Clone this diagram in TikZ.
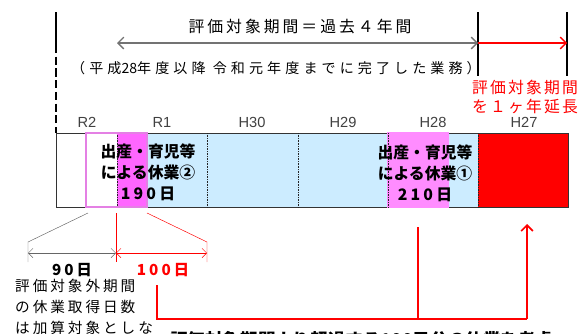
\documentclass[tikz,border=0pt]{standalone}
\usepackage{fontspec}
\setmainfont{Liberation Sans}
\newfontfamily\jp{Noto Sans CJK JP}
\usetikzlibrary{arrows.meta}

\definecolor{skyfill}{RGB}{204,236,255}
\definecolor{leavefill}{RGB}{255,102,255}
\definecolor{leavefillb}{RGB}{255,140,255}
\definecolor{leaveline}{RGB}{228,128,228}

\newcommand{\tightnum}[1]{{\addfontfeature{LetterSpace=0}#1}}

\tikzset{
  yearlabel/.style={font=\fontsize{12.5}{12.5}\selectfont, text=black!75, inner sep=0pt},
  leavetext/.style={font=\jp\bfseries\fontsize{13.5}{18}\selectfont, align=center, inner sep=0pt},
  titletext/.style={font=\jp\fontsize{13.5}{16}\selectfont\addfontfeature{LetterSpace=19}, inner sep=0pt},
  subtext/.style={font=\jp\fontsize{12}{14}\selectfont\addfontfeature{LetterSpace=29}, inner sep=0pt},
  redtext/.style={font=\jp\fontsize{13.5}{16}\selectfont\addfontfeature{LetterSpace=14}, text=red, align=center, inner sep=0pt},
  daystext/.style={font=\jp\bfseries\fontsize{13}{14}\selectfont\addfontfeature{LetterSpace=20}, inner sep=0pt},
  notetext/.style={font=\jp\fontsize{12.5}{18}\selectfont\addfontfeature{LetterSpace=20}, align=left, inner sep=0pt},
  barb/.tip={Straight Barb[length=5pt,width=10pt]},
  smallbarb/.tip={Straight Barb[length=4pt,width=8pt]},
}

\begin{document}
\begin{tikzpicture}[x=0.03cm,y=-0.03cm]
\useasboundingbox (0,0) rectangle (583,334);

\coordinate (D1) at (56,12);
\coordinate (D2) at (56,45);
\coordinate (D3) at (56,133);

\coordinate (L1) at (478,12);
\coordinate (L2) at (478,76);
\coordinate (L3) at (567,12);
\coordinate (L4) at (567,76);

\coordinate (A1) at (117,43);
\coordinate (A2) at (478,43);
\coordinate (A3) at (567,43);

% bar
\fill[leavefill] (117,133) rectangle (147,207);
\fill[skyfill] (147,133) rectangle (478,207);
\fill[leavefillb] (388,133) rectangle (448,207);
\fill[red] (478,133) rectangle (568,207);
\draw[black!80] (56,133) rectangle (568,207);
\foreach \x in {117,207,298,388,478}
  \draw[densely dotted, black!85] (\x,133) -- (\x,207);
\draw[leaveline, line width=1.2pt] (86,133) rectangle (147,207);
\draw[leavefillb, line width=1pt] (388,133) rectangle (448,207);
\draw[densely dotted, black!85] (388,133) -- (388,207);

% year labels
\node[yearlabel] (R2) at (87,122) {R2};
\node[yearlabel] (R1) at (162,122) {R1};
\node[yearlabel] (H30) at (252,122) {H30};
\node[yearlabel] (H29) at (343,122) {H29};
\node[yearlabel] (H28) at (433,122) {H28};
\node[yearlabel] (H27) at (524,122) {H27};

% leaves
\node[leavetext] (leave2) at (148,172) {出産・育児等\\による休業②\\{\addfontfeature{LetterSpace=20}190日}};
\node[leavetext] (leave1) at (425,173) {出産・育児等\\による休業①\\{\addfontfeature{LetterSpace=20}210日}};

% period
\draw[line width=1.5pt] (D1) -- (D2);
\draw[line width=1.5pt, dash pattern=on 7pt off 3pt] (D2) -- (D3);
\draw[line width=1.5pt] (L1) -- (L2);
\draw[line width=1.5pt] (L3) -- (L4);
\draw[black!55, line width=1.2pt, {barb}-{barb}] (A1) -- (A2);
\draw[red, line width=1.2pt, -{barb}] (A2) -- (A3);

\node[titletext] (title) at (300,27) {評価対象期間＝過去４年間};
\node[subtext] (sub) at (276,68) {（平成\tightnum{28}年度以降 令和元年度までに完了した業務）};
\node[redtext] (ext) at (525,97) {評価対象期間\\を１ヶ年延長};

% split of leave 2
\coordinate (G1) at (88,213);
\coordinate (G2) at (28,242);
\coordinate (G3) at (28,262);
\coordinate (G4) at (28,253);
\coordinate (M1) at (116,213);
\coordinate (M2) at (116,262);
\coordinate (M3) at (116,253);
\coordinate (P1) at (147,213);
\coordinate (P2) at (207,242);
\coordinate (P3) at (207,262);
\coordinate (P4) at (207,253);

\draw[black!60] (G1) -- (G2) -- (G3);
\draw[black!60, {smallbarb}-{smallbarb}] (G4) -- (M3);
\draw[red] (M1) -- (M2);
\draw[red] (P1) -- (P2) -- (P3);
\draw[red, {smallbarb}-{smallbarb}] (M3) -- (P4);

\node[daystext] (out) at (72,270) {90日};
\node[daystext, text=red] (in) at (163,270) {100日};
\node[notetext, anchor=north west] (note) at (15,279) {評価対象外期間\\の休業取得日数\\は加算対象としな};

% sum
\coordinate (S1) at (157,285);
\coordinate (S2) at (157,319);
\coordinate (S3) at (418,227);
\coordinate (S4) at (418,319);
\coordinate (S5) at (527,319);
\coordinate (S6) at (527,224);

\draw[red, line width=1.5pt] (S1) -- (S2) -- (S5);
\draw[red, line width=1.5pt] (S3) -- (S4);
\draw[red, line width=1.5pt, -{barb}] (S5) -- (S6);

\node[font=\jp\bfseries\fontsize{15}{18}\selectfont, inner sep=0pt, anchor=north west] (sumtext) at (170,331) {評価対象期間より超過する100日分の休業を考慮};

\end{tikzpicture}
\end{document}
